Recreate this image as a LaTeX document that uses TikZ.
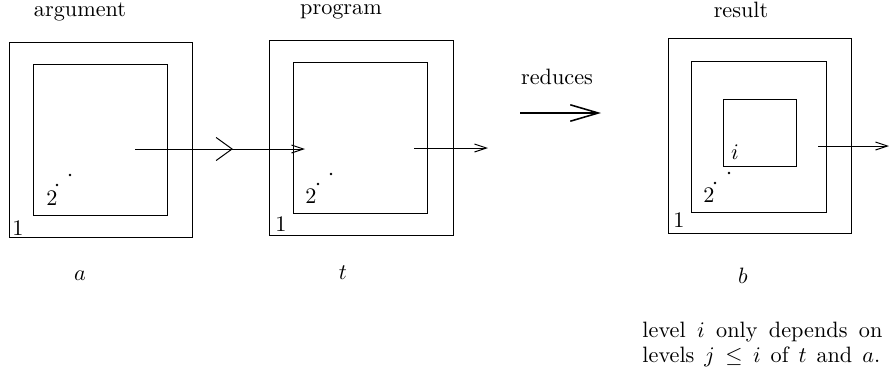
\documentclass[tikz,border=0pt]{standalone}
\usetikzlibrary{arrows.meta,decorations.markings}
\begin{document}
\begin{tikzpicture}[x=0.45pt,y=-0.45pt,
  box/.style={draw,line width=0.45pt},
  lbl/.style={inner sep=0pt,font=\fontsize{10}{12}\selectfont},
  conn/.style={line width=0.45pt,-{Straight Barb[length=5.4pt,width=3.6pt,line width=0.45pt]}},
  bigconn/.style={line width=0.7pt,-{Straight Barb[length=12.6pt,width=7.4pt,line width=0.7pt]}},
  dot/.style={circle,fill,inner sep=0pt,minimum size=1.3pt}]
\useasboundingbox (0,0) rectangle (889,370);
% box A
\path[box] (9,42) rectangle (192,237);
\path[box] (33,64) rectangle (167,215);
\node[lbl] (A1) at (18,228) {1};
\node[lbl] (A2) at (52,198) {2};
\node[dot] (Ad1) at (57,185) {};
\node[dot] (Ad2) at (70,175) {};
% box B
\path[box] (269,40) rectangle (453,235);
\path[box] (293,62) rectangle (427,213);
\node[lbl] (B1) at (281,224) {1};
\node[lbl] (B2) at (311,196) {2};
\node[dot] (Bd1) at (318,184) {};
\node[dot] (Bd2) at (331,174) {};
% box C
\path[box] (668,38) rectangle (851,233);
\path[box] (691,61) rectangle (826,212);
\path[box] (723,99) rectangle (796,166);
\node[lbl] (C1) at (679,220) {1};
\node[lbl] (C2) at (709,195) {2};
\node[lbl] (Ci) at (735,152) {$i$};
\node[dot] (Cd1) at (715,183) {};
\node[dot] (Cd2) at (729,173) {};
% titles
\node[lbl] (targ) at (80,12) {argument};
\node[lbl] (tprog) at (341,12) {program};
\node[lbl] (tres) at (741,10) {result};
\node[lbl] (la) at (80,276) {$a$};
\node[lbl] (lt) at (343,273) {$t$};
\node[lbl] (lb) at (743,276) {$b$};
\node[lbl] (red) at (557,77) {reduces};
\node[lbl,anchor=north west,align=left] (note) at (642,322)
  {\makebox[108pt][s]{level $i$ only depends on}\\[-1pt]
   \makebox[107pt][s]{levels $j\le i$ of $t$ and $a$.}};
% connectors
\coordinate (a0) at (135,149);
\coordinate (b0) at (305,149);
\coordinate (b2) at (414,148);
\coordinate (b3) at (488,148);
\coordinate (c0) at (818,146);
\coordinate (c1) at (889,146);
\coordinate (r0) at (520,113);
\coordinate (r1) at (601,113);
\draw[conn,postaction={decorate},decoration={markings,
  mark=at position 0.576 with {\arrow{Straight Barb[length=7.2pt,width=10.4pt,line width=0.45pt]}}}] (a0) -- (b0);
\draw[conn] (b2) -- (b3);
\draw[conn] (c0) -- (c1);
\draw[bigconn] (r0) -- (r1);
\end{tikzpicture}
\end{document}
